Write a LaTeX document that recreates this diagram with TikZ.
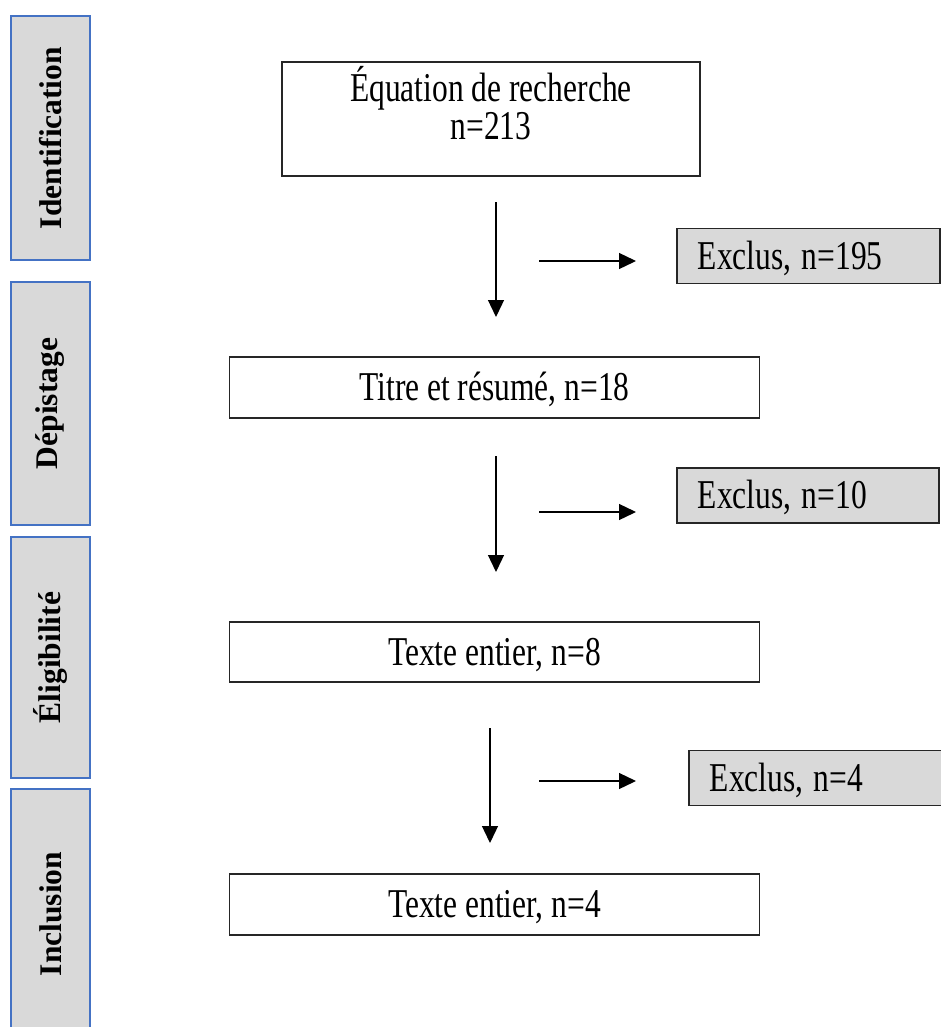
\documentclass[tikz,border=0pt]{standalone}
\usepackage{graphicx}
\usepackage{fontspec}
\setmainfont{Liberation Serif}
\usetikzlibrary{arrows.meta}
\definecolor{sidegray}{HTML}{D9D9D9}
\definecolor{sideblue}{HTML}{4472C4}
\definecolor{boxline}{HTML}{262626}
\newcommand{\tallt}[1]{\scalebox{1}[1.3]{#1}}
\begin{document}
\begin{tikzpicture}[x=1pt,y=-1pt,
  phase/.style={draw=sideblue, fill=sidegray, line width=2.5pt, rectangle, rotate=90,
    inner sep=0pt, font=\fontsize{31.5}{38}\selectfont\bfseries},
  mainbox/.style={draw=boxline, line width=1.5pt, rectangle, inner sep=0pt,
    text height=26pt, text depth=0pt, font=\fontsize{31.5}{39}\selectfont},
  plaintext/.style={inner sep=0pt, anchor=base, font=\fontsize{31.5}{39}\selectfont},
  exclbox/.style={draw=boxline, fill=sidegray, line width=1.5pt, rectangle, anchor=west,
    inner xsep=21pt, inner ysep=0pt, minimum height=55pt, align=left,
    text height=26pt, text depth=0pt, font=\fontsize{31.5}{38}\selectfont},
  flow/.style={line width=1.3pt, -{Triangle[length=17pt,width=16pt]}}]
\useasboundingbox (0,0) rectangle (941,1027);

% phase side bars
\node[phase, minimum width=244pt, minimum height=79pt] (p1) at (50.5,138) {Identification};
\node[phase, minimum width=243pt, minimum height=79pt] (p2) at (50.5,403.5) {Dépistage};
\node[phase, minimum width=241pt, minimum height=79pt] (p3) at (50.5,657.5) {Éligibilité};
\node[phase, minimum width=250pt, minimum height=79pt] (p4) at (50.5,914) {Inclusion};

% main boxes
\node[mainbox, minimum width=418pt, minimum height=114pt] (b1) at (491,119) {};
\node[plaintext] (b1a) at (491,101.5) {\tallt{Équation de recherche}};
\node[plaintext] (b1b) at (491,140) {\tallt{n=213}};
\node[mainbox, minimum width=530pt, minimum height=61pt] (b2) at (494.5,387.5) {\tallt{Titre et résumé, n=18}};
\node[mainbox, minimum width=530pt, minimum height=60pt] (b3) at (494.5,652) {\tallt{Texte entier, n=8}};
\node[mainbox, minimum width=530pt, minimum height=61pt] (b4) at (494.5,904.5) {\tallt{Texte entier, n=4}};

% exclusion boxes
\node[exclbox, text width=221pt] (e1) at (676,256) {\tallt{Exclus, n=195}};
\node[exclbox, text width=220pt] (e2) at (676,495.5) {\tallt{Exclus, n=10}};
\node[exclbox, text width=220pt] (e3) at (688,778) {\tallt{Exclus, n=4}};

% arrow end points
\coordinate (v1s) at (496,202);
\coordinate (v1e) at (496,317);
\coordinate (h1s) at (539,261);
\coordinate (h1e) at (636,261);
\coordinate (v2s) at (496,456);
\coordinate (v2e) at (496,572);
\coordinate (h2s) at (539,512);
\coordinate (h2e) at (636,512);
\coordinate (v3s) at (490,728);
\coordinate (v3e) at (490,843);
\coordinate (h3s) at (539,781);
\coordinate (h3e) at (636,781);

\draw[flow] (v1s) -- (v1e);
\draw[flow] (h1s) -- (h1e);
\draw[flow] (v2s) -- (v2e);
\draw[flow] (h2s) -- (h2e);
\draw[flow] (v3s) -- (v3e);
\draw[flow] (h3s) -- (h3e);
\end{tikzpicture}
\end{document}
